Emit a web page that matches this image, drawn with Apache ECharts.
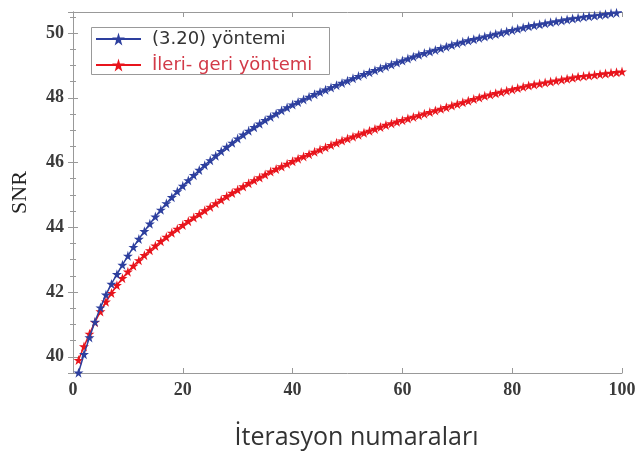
<!DOCTYPE html>
<html>
<head>
<meta charset="utf-8">
<script src="https://cdn.jsdelivr.net/npm/echarts@6/dist/echarts.min.js"></script>
<style>
  html, body { margin: 0; padding: 0; background: #fff; }
  #chart { width: 639px; height: 455px; }
</style>
</head>
<body>
<div id="chart"></div>
<script>
// iterasyon numaralari 1..100
const iterations = Array.from({ length: 100 }, (_, i) => i + 1);

// (3.20) yontemi
const snrMethod320 = [
  39.51, 40.08, 40.60, 41.08, 41.52, 41.92, 42.25, 42.55, 42.84, 43.12,
  43.39, 43.64, 43.88, 44.11, 44.33, 44.54, 44.74, 44.93, 45.11, 45.28,
  45.45, 45.61, 45.77, 45.92, 46.07, 46.21, 46.35, 46.48, 46.61, 46.74,
  46.86, 46.98, 47.09, 47.20, 47.31, 47.41, 47.51, 47.61, 47.70, 47.79,
  47.87, 47.95, 48.03, 48.11, 48.18, 48.25, 48.32, 48.39, 48.46, 48.53,
  48.60, 48.67, 48.73, 48.79, 48.85, 48.91, 48.97, 49.03, 49.09, 49.15,
  49.21, 49.27, 49.33, 49.38, 49.43, 49.48, 49.53, 49.58, 49.63, 49.68,
  49.73, 49.77, 49.81, 49.85, 49.89, 49.93, 49.97, 50.01, 50.05, 50.09,
  50.13, 50.17, 50.21, 50.24, 50.27, 50.30, 50.33, 50.36, 50.39, 50.42,
  50.45, 50.47, 50.50, 50.52, 50.54, 50.56, 50.58, 50.61, 50.63, 50.66
];

// ileri-geri yontemi
const snrForwardBackward = [
  39.90, 40.32, 40.71, 41.07, 41.40, 41.70, 41.97, 42.21, 42.43, 42.63,
  42.81, 42.98, 43.14, 43.29, 43.43, 43.57, 43.70, 43.83, 43.95, 44.07,
  44.19, 44.30, 44.41, 44.52, 44.63, 44.74, 44.85, 44.96, 45.06, 45.16,
  45.26, 45.36, 45.45, 45.54, 45.63, 45.72, 45.80, 45.88, 45.96, 46.04,
  46.12, 46.19, 46.26, 46.33, 46.40, 46.47, 46.54, 46.61, 46.68, 46.74,
  46.80, 46.86, 46.92, 46.98, 47.04, 47.10, 47.16, 47.21, 47.26, 47.31,
  47.36, 47.41, 47.46, 47.51, 47.56, 47.61, 47.66, 47.71, 47.76, 47.81,
  47.86, 47.91, 47.96, 48.01, 48.06, 48.10, 48.14, 48.18, 48.22, 48.26,
  48.30, 48.34, 48.38, 48.41, 48.44, 48.47, 48.50, 48.53, 48.56, 48.59,
  48.62, 48.65, 48.67, 48.69, 48.71, 48.73, 48.75, 48.77, 48.79, 48.81
];

const seriesNames = ['(3.20) yöntemi', 'İleri- geri yöntemi'];
const xTicks = [0, 20, 40, 60, 80, 100];

const STAR = 'path://M50,0 L61,35 L98,35 L68,57 L79,91 L50,70 L21,91 L32,57 L2,35 L39,35 Z';
const BLUE = '#2d3f9e';
const RED = '#e8141c';
const AXIS = '#999';

const pair = (ys) => iterations.map((x, i) => [x, ys[i]]);

const serifLabel = {
  fontFamily: 'Liberation Serif',
  fontSize: 18,
  fontWeight: 'bold',
  color: '#3a3a3a'
};

const chart = echarts.init(document.getElementById('chart'), null, { renderer: 'canvas' });

chart.setOption({
  backgroundColor: '#fff',
  animation: false,
  grid: { left: 73, right: 17, top: 12, bottom: 82 },
  graphic: [{
    type: 'rect',
    left: 91, top: 27, z: 3,
    shape: { width: 238, height: 47 },
    style: { fill: '#fff', stroke: '#999', lineWidth: 1 }
  }],
  legend: {
    orient: 'vertical',
    left: 95, top: 30,
    padding: 0,
    itemWidth: 45, itemHeight: 16, itemGap: 8,
    z: 5,
    textStyle: { fontFamily: 'DejaVu Sans', fontSize: 18, lineHeight: 16, color: '#333', padding: [0, 0, 0, 6] },
    data: [
      { name: seriesNames[0], textStyle: { color: '#333' } },
      { name: seriesNames[1], textStyle: { color: '#d23a48' } }
    ]
  },
  xAxis: [{
    type: 'value',
    min: xTicks[0], max: xTicks[xTicks.length - 1], interval: 20,
    name: 'İterasyon numaraları',
    nameLocation: 'middle',
    nameGap: 52,
    nameTextStyle: { fontFamily: 'Open Sans', fontSize: 25, color: '#333', padding: [0, 0, 0, 18] },
    axisLine: { lineStyle: { color: AXIS } },
    axisTick: { inside: true, length: 5, lineStyle: { color: AXIS } },
    axisLabel: Object.assign({ margin: 8 }, serifLabel),
    splitLine: { show: false }
  }, {
    type: 'value', position: 'top',
    min: 0, max: 100, interval: 20,
    axisLine: { show: true, lineStyle: { color: AXIS } },
    axisTick: { inside: true, length: 5, lineStyle: { color: AXIS } },
    axisLabel: { show: false },
    splitLine: { show: false }
  }],
  yAxis: [{
    type: 'value',
    min: 39.5, max: 50.65, splitNumber: 5,
    name: 'SNR',
    nameLocation: 'middle',
    nameGap: 42,
    nameTextStyle: { fontFamily: 'Liberation Serif', fontSize: 22, color: '#222' },
    axisLine: { show: true, lineStyle: { color: AXIS } },
    axisTick: { inside: true, length: 5, lineStyle: { color: AXIS } },
    minorTick: { show: true, splitNumber: 4, length: 3, lineStyle: { color: AXIS } },
    axisLabel: Object.assign({
      margin: 9,
      formatter: (v) => (Math.abs(v % 2) < 1e-9 ? String(v) : '')
    }, serifLabel),
    splitLine: { show: false }
  }, {
    type: 'value', position: 'right',
    min: 39.5, max: 50.65, splitNumber: 5,
    axisLine: { show: true, lineStyle: { color: AXIS } },
    axisTick: { inside: true, length: 5, lineStyle: { color: AXIS } },
    minorTick: { show: true, splitNumber: 4, length: 3, lineStyle: { color: AXIS } },
    axisLabel: { show: false },
    splitLine: { show: false }
  }],
  series: [{
    name: seriesNames[0],
    type: 'line',
    data: pair(snrMethod320),
    symbol: STAR, symbolSize: 10, showAllSymbol: true,
    itemStyle: { color: BLUE },
    lineStyle: { color: BLUE, width: 1.5 },
    z: 3
  }, {
    name: seriesNames[1],
    type: 'line',
    data: pair(snrForwardBackward),
    symbol: STAR, symbolSize: 10, showAllSymbol: true,
    itemStyle: { color: RED },
    lineStyle: { color: RED, width: 1.5 },
    z: 2
  }]
});

window.onresize = () => chart.resize();
</script>
</body>
</html>
